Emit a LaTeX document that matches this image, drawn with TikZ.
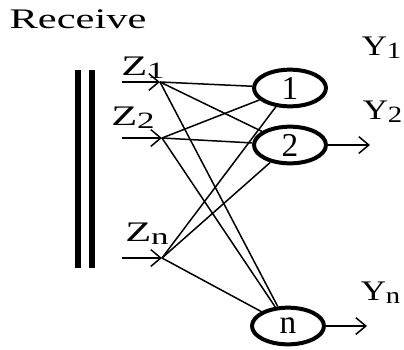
\documentclass[tikz,border=0pt]{standalone}
\usepackage{fontspec}
\setmainfont{Liberation Serif}
\usetikzlibrary{shapes.geometric,arrows.meta}

\begin{document}
\begin{tikzpicture}[x=0.3pt,y=-0.3pt,>={Straight Barb[length=3pt,width=5pt]},
  lbl/.style={font=\fontsize{8.5}{9}\selectfont,xscale=1.5,inner sep=0pt},
  outlbl/.style={lbl,xscale=0.82,anchor=west},
  unit/.style={ellipse,draw,line width=1.2pt,minimum width=21.6pt,minimum height=11pt,inner sep=0pt,font=\fontsize{10}{10}\selectfont},
  wire/.style={line width=0.45pt}]
 \useasboundingbox (0,0) rectangle (404,350);
 \node[lbl] (rcv) at (78,19) {Receive}; %タイトル
 \draw[line width=1.7pt] (78,70)--(78,268); %二重線
 \draw[line width=1.7pt] (92,70)--(92,268);
 % 入力
 \coordinate (a1) at (122,82); \coordinate (z1) at (160,82);
 \coordinate (a2) at (122,138); \coordinate (z2) at (162,138);
 \coordinate (an) at (122,258); \coordinate (zn) at (162,258);
 \draw[->,wire] (a1)--(z1);
 \draw[->,wire] (a2)--(z2);
 \draw[->,wire] (an)--(zn);
 \node[lbl] (lz1) at (143,68) {Z\raisebox{-0.2ex}{\fontsize{7}{7}\selectfont 1}};
 \node[lbl] (lz2) at (133,118) {Z\raisebox{-0.2ex}{\fontsize{7}{7}\selectfont 2}};
 \node[lbl] (lzn) at (147,234) {Z\raisebox{-0.2ex}{\fontsize{7}{7}\selectfont n}};
 % 出力ユニット
 \node[unit] (n1) at (290,88) {1};
 \node[unit] (n2) at (290,145) {2};
 \node[unit] (nn) at (288,326) {n};
 \foreach \z in {z1,z2,zn}
  \foreach \n in {n1,n2,nn}
   \draw[wire] (\z)--(\n);
 \coordinate (y2) at (370,145); \coordinate (yn) at (367,326);
 \draw[->,wire] (n2)--(y2);
 \draw[->,wire] (nn)--(yn);
 \node[outlbl] (ly1) at (361,48) {Y\raisebox{-0.2ex}{\fontsize{7}{7}\selectfont 1}};
 \node[outlbl] (ly2) at (362,112) {Y\raisebox{-0.2ex}{\fontsize{7}{7}\selectfont 2}};
 \node[outlbl] (lyn) at (360,293) {Y\raisebox{-0.2ex}{\fontsize{7}{7}\selectfont n}};
\end{tikzpicture}
\end{document}
